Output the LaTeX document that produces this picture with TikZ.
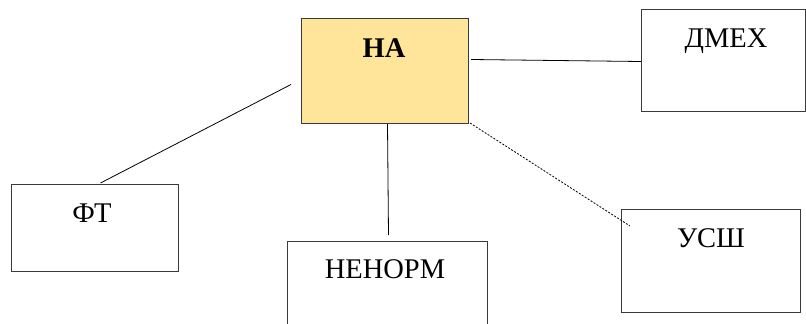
\documentclass[tikz,border=0pt]{standalone}
\usepackage{fontspec}
\setmainfont{Liberation Serif}
\newfontfamily\timesfont{Liberation Serif}
\newcommand\lblfont{\timesfont\fontsize{28.5}{30}\selectfont}
\definecolor{boxfill}{HTML}{FFE599}
\definecolor{boxline}{HTML}{3A3A3A}
\tikzset{
  box/.style={draw=boxline, line width=1pt, rectangle, anchor=north west, inner sep=0pt},
  lbl/.style={anchor=base, inner sep=0pt, font=\lblfont},
  conn/.style={draw=black, line width=0.8pt}}
\begin{document}
\begin{tikzpicture}[x=1pt,y=-1pt]
\useasboundingbox (0,0) rectangle (806,324);
\node[box, fill=boxfill, minimum width=167pt, minimum height=105pt] (na) at (301,18) {};
\node[box, minimum width=164pt, minimum height=102pt] (dmex) at (641,9) {};
\node[box, minimum width=167pt, minimum height=87pt] (ft) at (11,184) {};
\node[box, minimum width=200pt, minimum height=100pt] (nenorm) at (287,241) {};
\node[box, minimum width=179pt, minimum height=103pt] (usch) at (621,209) {};
\node[lbl] (na-t) at (384,57) {\bfseries НА};
\node[lbl] (dmex-t) at (726,47) {ДМЕХ};
\node[lbl] (ft-t) at (92,222) {ФТ};
\node[lbl] (nenorm-t) at (385,278) {НЕНОРМ};
\node[lbl] (usch-t) at (711,247) {УСШ};
\draw[conn] ([shift={(-10,13.5)}]na.west) -- ([shift={(5.5,-1)}]ft.north);
\draw[conn] ([shift={(2,-11.5)}]na.east) -- ([shift={(0,1)}]dmex.west);
\draw[conn] ([shift={(2.5,0)}]na.south) -- ([shift={(1,-6)}]nenorm.north);
\draw[conn, dash pattern=on 2pt off 1.5pt] ([shift={(1,-1)}]na.south east) -- ([shift={(9,17)}]usch.north west);
\end{tikzpicture}
\end{document}
